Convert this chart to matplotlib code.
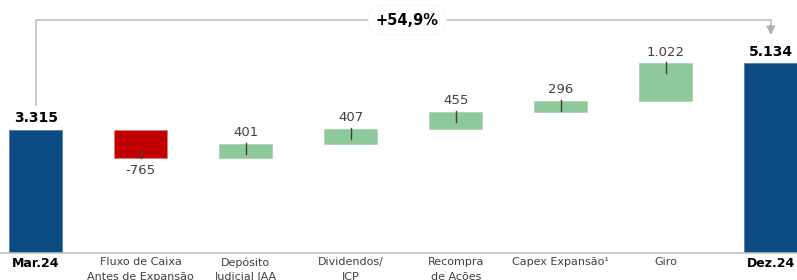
import matplotlib
matplotlib.use("Agg")
import matplotlib.pyplot as plt

categories = ["Mar.24", "Fluxo de Caixa\nAntes de Expansão", "Depósito\nJudicial IAA",
              "Dividendos/\nJCP", "Recompra\nde Ações", "Capex Expansão¹", "Giro", "Dez.24"]
start_value = 3315
end_value = 5134
deltas = [-765, 401, 407, 455, 296, 1022]
total_labels = ["3.315", "5.134"]
delta_labels = ["-765", "401", "407", "455", "296", "1.022"]
growth_label = "+54,9%"

BLUE = "#0B4A82"
RED = "#C00000"
GREEN = "#8DC99B"
GRAY_TXT = "#404040"
LINE = "#BFBFBF"

plt.rcParams['font.family'] = ['DejaVu Sans']

W, H = 797, 280
fig = plt.figure(figsize=(W / 100, H / 100), dpi=100)
base_px = 27.5
ax = fig.add_axes([0, base_px / H, 1, 1 - base_px / H])
ax.set_xlim(-0.34, 7.25)
ax.set_ylim(0, 6843)
for s in ["top", "left", "right"]:
    ax.spines[s].set_visible(False)
ax.spines["bottom"].set_color(LINE)
ax.spines["bottom"].set_linewidth(1.2)
ax.set_yticks([])

width = 0.5
n = len(categories)
px = 0.0369  # pixels per unit

ax.bar(0, start_value, width=width, color=BLUE, edgecolor="#5A7FA8", linewidth=0.6, zorder=2)
ax.bar(n - 1, end_value, width=width, color=BLUE, edgecolor="#5A7FA8", linewidth=0.6, zorder=2)
ax.annotate(total_labels[0], (0, start_value), xytext=(0, 12), textcoords="offset pixels",
            ha="center", va="center", fontsize=10, fontweight="bold", color="black")
ax.annotate(total_labels[1], (n - 1, end_value), xytext=(0, 11), textcoords="offset pixels",
            ha="center", va="center", fontsize=10, fontweight="bold", color="black")

cum = start_value
for i, (d, lab) in enumerate(zip(deltas, delta_labels), start=1):
    bottom = cum if d >= 0 else cum + d
    top = bottom + abs(d)
    if d >= 0:
        ax.bar(i, abs(d), bottom=bottom, width=width, color=GREEN, edgecolor="#A9D6B3",
               linewidth=0.6, zorder=2)
        ax.plot([i, i], [top + 1 / px, top - 10 / px], color="#404040", lw=1.0, zorder=3)
        ax.annotate(lab, (i, top), xytext=(0, 11), textcoords="offset pixels",
                    ha="center", va="center", fontsize=9.5, color=GRAY_TXT)
    else:
        ax.bar(i, abs(d), bottom=bottom, width=width, color=RED, edgecolor="#E07A7A",
               linewidth=0.6, zorder=2)
        ax.plot([i, i], [bottom, bottom + 8 / px], color="#404040", lw=1.0, zorder=3)
        ax.annotate(lab, (i, bottom), xytext=(0, -12), textcoords="offset pixels",
                    ha="center", va="center", fontsize=9.5, color=GRAY_TXT)
    cum += d

# bracket
y_br = (252.5 - 20) / px
y_start = (252.5 - 105) / px
y_tip = (252.5 - 35) / px
ax.plot([0, 0, n - 1, n - 1], [y_start, y_br, y_br, y_tip + 150], color=LINE, lw=1.2,
        zorder=1, clip_on=False)
ax.annotate("", xy=(n - 1, y_tip), xytext=(n - 1, y_tip + 250),
            arrowprops=dict(arrowstyle="-|>,head_length=0.5,head_width=0.25", color="#B0B0B0",
                            lw=1.2, shrinkA=0, shrinkB=0))
ax.text(3.54, y_br, growth_label, ha="center", va="center", fontsize=10.5, fontweight="bold",
        color="black", zorder=4,
        bbox=dict(boxstyle="round,pad=0.5,rounding_size=0.9", fc="white", ec="#F7F7F7", lw=0.8))

ax.set_xticks(range(n))
ax.set_xticklabels(categories, fontsize=8, color=GRAY_TXT, linespacing=1.55)
ax.tick_params(axis="x", length=0, pad=3.5)
for t in ax.get_xticklabels():
    if t.get_text() in ("Mar.24", "Dez.24"):
        t.set_fontweight("bold")
        t.set_color("black")
        t.set_fontsize(9)

fig.savefig("out.png", dpi=100)
